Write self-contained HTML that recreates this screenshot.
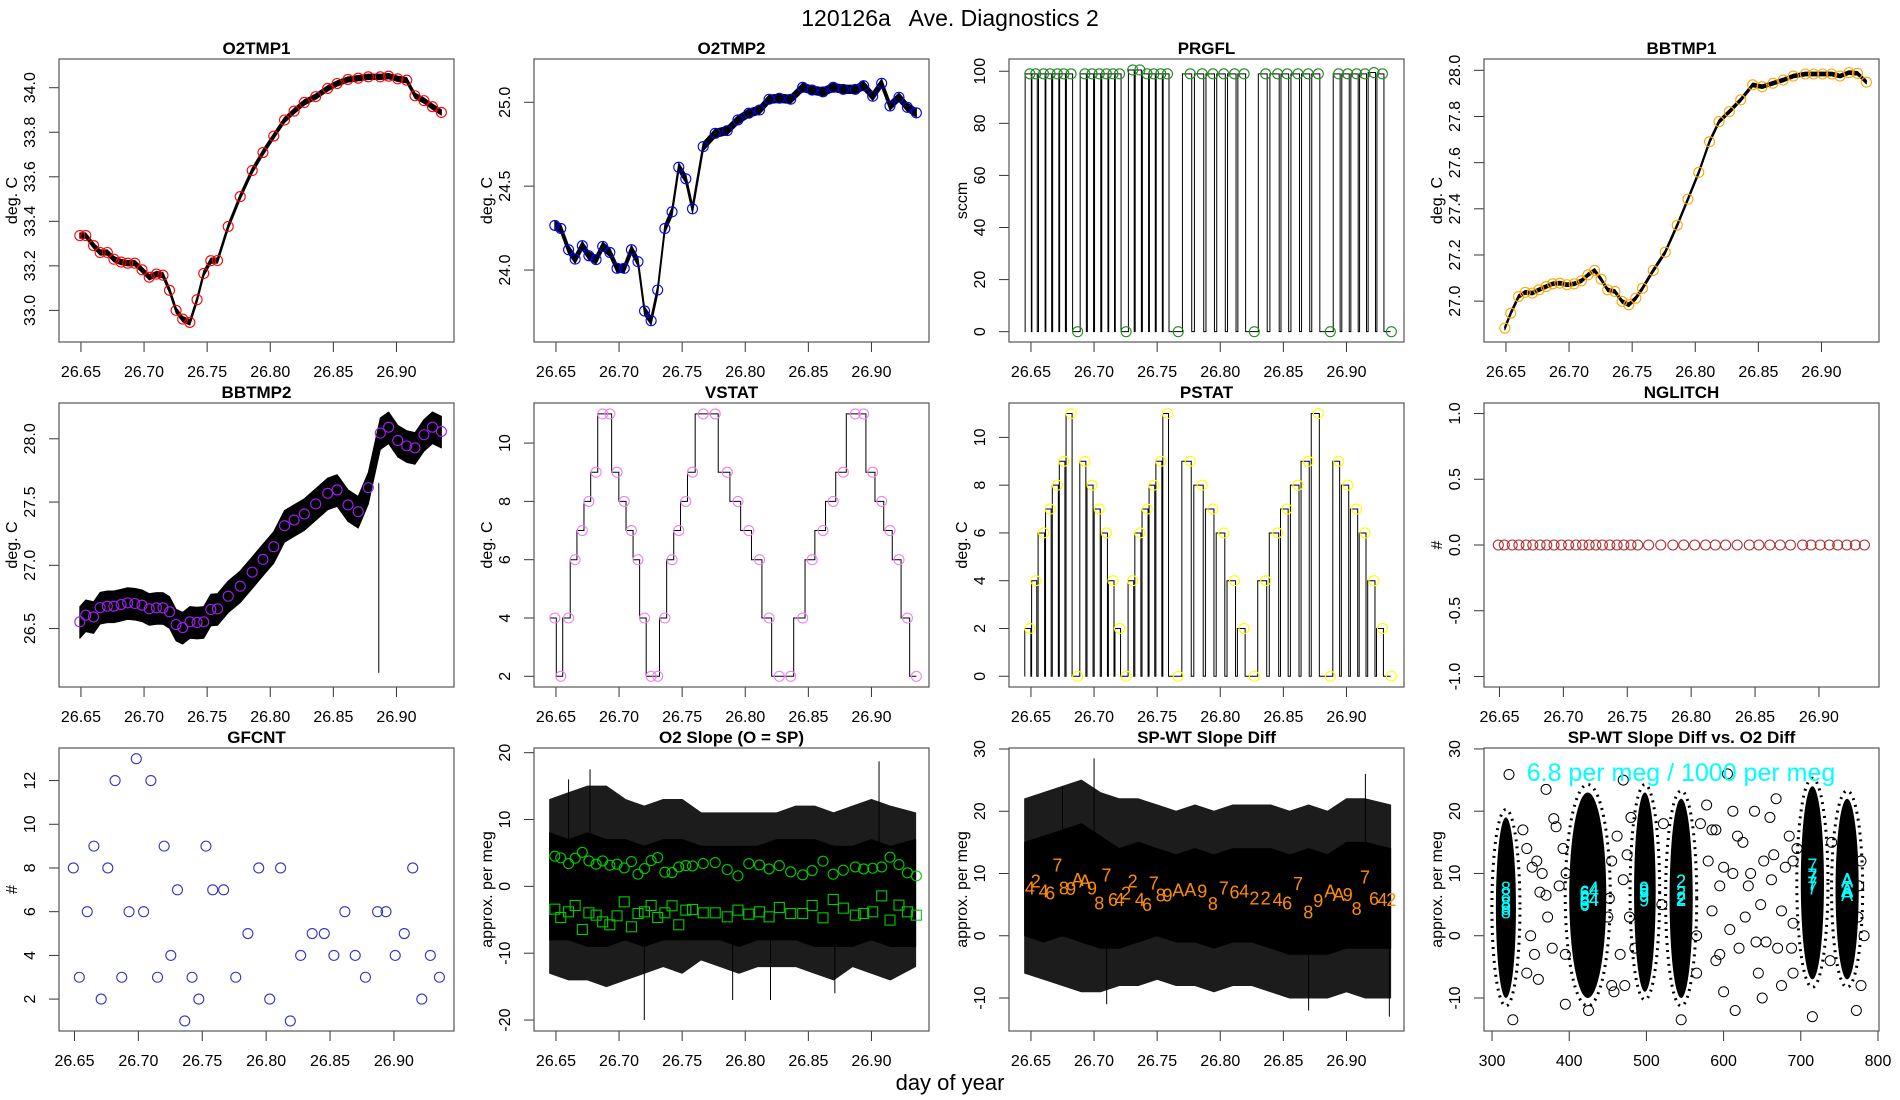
<!DOCTYPE html>
<html><head><meta charset="utf-8"><title>120126a Ave. Diagnostics 2</title>
<style>
html,body{margin:0;padding:0;background:#fff;}
svg{display:block;font-family:"Liberation Sans",Arial,sans-serif;}
</style></head>
<body>
<svg id="chart" width="1900" height="1100" viewBox="0 0 1900 1100" xmlns="http://www.w3.org/2000/svg">
<rect x="0" y="0" width="1900" height="1100" fill="#fff"/>
<text x="950" y="26" text-anchor="middle" font-size="23" style="white-space:pre">120126a   Ave. Diagnostics 2</text>
<text x="950" y="1090" text-anchor="middle" font-size="22">day of year</text>
</svg>
<script>
// ---------- data ----------
const T = [26.6491,26.6538,26.6600,26.6652,26.6709,26.6761,26.6818,26.6870,26.6927,26.6984,26.7041,26.7098,26.7150,26.7202,26.7254,26.7306,26.7363,26.7420,26.7473,26.7529,26.7582,26.7667,26.7762,26.7857,26.7942,26.8028,26.8113,26.8189,26.8270,26.8360,26.8455,26.8530,26.8616,26.8697,26.8777,26.8872,26.8938,26.9010,26.9081,26.9147,26.9218,26.9285,26.9356];
const O2TMP1 = [33.336,33.336,33.291,33.260,33.260,33.230,33.217,33.212,33.212,33.182,33.149,33.163,33.158,33.090,33.000,32.961,32.946,33.048,33.166,33.223,33.224,33.377,33.511,33.628,33.709,33.783,33.855,33.895,33.934,33.960,33.997,34.019,34.037,34.043,34.049,34.049,34.052,34.040,34.034,33.964,33.942,33.915,33.889];
const O2TMP2 = [24.266,24.248,24.121,24.065,24.145,24.085,24.062,24.141,24.105,24.010,24.010,24.121,24.050,23.756,23.698,23.881,24.248,24.347,24.613,24.544,24.365,24.736,24.815,24.831,24.895,24.935,24.954,25.018,25.024,25.018,25.089,25.073,25.062,25.089,25.077,25.077,25.099,25.036,25.113,24.978,25.030,24.970,24.937];
const PRGFL = [99,99,99,99,99,99,99,0,99,99,99,99,99,99,0,100.5,100.5,99,99,99,99,0,99,99,99,99,99,99,0,99,99,99,99,99,99,0,99,99,99,99,99.5,99,0];
const BBTMP1 = [26.883,26.948,27.020,27.038,27.035,27.049,27.063,27.075,27.078,27.071,27.075,27.088,27.114,27.133,27.095,27.049,27.042,26.999,26.984,27.013,27.056,27.133,27.212,27.329,27.442,27.558,27.691,27.778,27.821,27.872,27.937,27.929,27.944,27.958,27.975,27.984,27.984,27.984,27.984,27.975,27.990,27.987,27.949];
const BBTMP2 = [26.553,26.606,26.592,26.666,26.677,26.677,26.690,26.703,26.698,26.685,26.656,26.664,26.664,26.632,26.532,26.508,26.553,26.548,26.553,26.651,26.656,26.756,26.835,26.946,27.047,27.147,27.313,27.358,27.406,27.485,27.569,27.596,27.477,27.424,27.614,28.045,28.092,27.987,27.944,27.929,28.032,28.092,28.058];
const BB2_SPIKE_T = [26.886];
const BB2_SPIKE_LO = [26.15];
const VSTAT = [4,2,4,6,7,8,9,11,11,9,8,7,6,4,2,2,4,6,7,8,9,11,11,9,8,7,6,4,2,2,4,6,7,8,9,11,11,9,8,7,6,4,2];
const PSTAT = [2,4,6,7,8,9,11,0,9,8,7,6,4,2,0,4,6,7,8,9,11,0,9,8,7,6,4,2,0,4,6,7,8,9,11,0,9,8,7,6,4,2,0];
const NGLITCH = [0,0,0,0,0,0,0,0,0,0,0,0,0,0,0,0,0,0,0,0,0,0,0,0,0,0,0,0,0,0,0,0,0,0,0,0,0,0,0,0,0,0,0];
const GFCNT = [8,3,6,9,2,8,12,3,6,13,6,12,3,9,4,7,1,3,2,9,7,7,3,5,8,2,8,1,4,5,5,4,6,4,3,6,6,4,5,8,2,4,3];
const SLOPE_HI = [4.51,4.26,3.41,4.21,5.10,3.81,3.31,3.81,3.16,3.31,2.76,3.71,1.82,2.66,3.86,4.31,2.12,2.07,2.91,3.11,3.06,3.41,3.56,2.51,1.57,3.41,3.21,2.61,3.11,2.17,1.72,2.37,3.76,1.82,2.42,2.91,2.61,2.71,2.91,4.36,3.26,2.02,1.57];
const SLOPE_LO = [-3.41,-4.66,-3.81,-2.86,-6.45,-3.96,-4.31,-5.31,-5.75,-4.41,-2.32,-6.05,-4.06,-3.81,-2.86,-4.66,-3.96,-2.91,-5.75,-3.56,-3.46,-3.96,-3.96,-4.56,-3.56,-4.16,-3.81,-4.56,-3.16,-4.06,-4.06,-2.86,-4.71,-1.97,-3.26,-4.31,-4.06,-3.81,-1.42,-5.05,-2.81,-3.81,-4.31];
const SPWT = [7.61,8.68,7.07,6.80,11.26,7.61,7.50,8.95,8.68,7.61,5.19,9.65,5.73,5.73,6.80,8.68,5.73,4.92,8.41,6.43,6.43,7.23,7.34,7.07,5.08,7.61,6.91,7.07,6.00,6.00,5.73,5.19,8.30,3.74,5.62,7.07,6.53,6.53,4.28,9.38,5.89,5.73,5.73];
const O2DIFF = [432,545,432,420,715,318,497,760,760,497,318,715,420,432,545,545,432,420,715,318,497,760,760,497,318,715,420,432,545,545,432,420,715,318,497,760,760,497,318,715,420,432,545];
const TB = [26.645,26.66,26.675,26.69,26.705,26.72,26.735,26.75,26.765,26.78,26.795,26.81,26.825,26.84,26.855,26.87,26.885,26.90,26.915,26.935];
const SL_CORE_HI = [8,7,8,7,7,6,7,7,6,6,6,6,7,7,7,6,6,7,6,7];
const SL_CORE_LO = [-8,-8,-9,-9,-8,-9,-8,-8,-8,-8,-9,-8,-8,-8,-9,-9,-9,-8,-9,-9];
const SL_FR_HI = [13,14,15,15,13,12,13,13,11,11,11,11,11,12,12,11,12,13,12,11];
const SL_FR_LO = [-13,-14,-14,-15,-14,-13,-12,-13,-11,-12,-13,-12,-12,-12,-13,-14,-12,-13,-14,-12];
const SL_SPIKE_T = [26.677,26.72,26.79,26.82,26.871,26.906,26.66];
const SL_SPIKE_V = [17.5,-20,-17,-17,-16,18.7,16];
const SW_CORE_HI = [15,16,17,18,16,14,15,14,13,14,13,14,14,14,13,14,13,15,15,14];
const SW_CORE_LO = [0,-1,0,-1,-2,-2,-1,0,-1,-1,-2,-1,-1,-2,-3,-3,-3,-2,-2,-2];
const SW_FR_HI = [22,23,24,25,23,22,22,21,20,21,20,21,21,21,20,21,20,22,22,21];
const SW_FR_LO = [-6,-7,-8,-9,-9,-8,-8,-7,-8,-8,-9,-8,-8,-9,-10,-10,-10,-9,-10,-10];
const SW_SPIKE_T = [26.70,26.675,26.87,26.934,26.71,26.915];
const SW_SPIKE_V = [28.5,24,-12,-13,-11,26];
const CL_X = [318,424,498,545,715,760];
const CL_HW = [13,24,14,15,15,15];
const CL_LO = [-10,-10,-9,-10,-7,-7];
const CL_HI = [19,23,23,22,24,22];
const SP_X = [322,370,380,345,352,358,362,370,355,345,360,378,387,392,383,372,395,350,365,455,462,470,478,466,472,458,480,470,485,452,475,565,570,578,580,585,590,595,600,605,612,618,620,625,628,635,640,642,648,650,655,660,665,670,675,680,685,690,695,612,600,590,632,645,662,675,615,595,585,608,652,668,688,775,778,782,772,778,774,327,425,545,715,340,396,450,520,565,690,738,740,395,455,522,690];
const SP_Y = [25.9,23.5,18.8,14,11,12,7,6.5,-3,-6,-7,-2,8,14,17.5,3,-11,0,10,12,16,9,3,-3,-8,-9,19,25,-2,6,13,0,18,21,12,17,17,8,11,26,20,16,-2,15,3,10,20,-1,5,-10,-1,19,13,-2,4,11,16,2,14,10,-9,-4,8,-6,9,-8,-12,-3,4,1,12,22,-2,8,12,0,-12,-8,3,-13.5,-12,-13.5,-13,17,10,3,5,-6,12,-4,15,-3,-8,18,-6];

// ---------- helpers ----------
const NS = 'http://www.w3.org/2000/svg';
const svg = document.getElementById('chart');
function mk(tag, attrs, parent, name){
  const el = document.createElementNS(NS, tag);
  for (const k in attrs) el.setAttribute(k, attrs[k]);
  
  
  (parent || svg).appendChild(el);
  return el;
}
const COLS = [59,534,1009,1484];
const ROWS = [[59,342],[403,687],[748,1031]];
const XT = [26.65,26.70,26.75,26.80,26.85,26.90];
let clipId = 0;
function panel(ci, ri, xlim, ylim, title, ylab, yticks, ydec, xticks, xdec){
  const x0 = COLS[ci], x1 = x0 + 395, y0 = ROWS[ri][0], y1 = ROWS[ri][1];
  const sx = v => x0 + (v - xlim[0]) / (xlim[1] - xlim[0]) * (x1 - x0);
  const sy = v => y1 - (v - ylim[0]) / (ylim[1] - ylim[0]) * (y1 - y0);
  const g = mk('g', {}, svg, title.toLowerCase().replace(/[^a-z0-9]+/g,'-') + '-panel');
  const cid = 'clip' + (clipId++);
  const cp = mk('clipPath', {id: cid}, g, 'plot-clip');
  mk('rect', {x: x0, y: y0, width: x1 - x0, height: y1 - y0}, cp, 'clip-rect');
  const plot = mk('g', {'clip-path': 'url(#' + cid + ')'}, g, 'plot-area');
  mk('text', {x: (x0 + x1) / 2, y: y0 - 5, 'text-anchor': 'middle', 'font-size': 17, 'font-weight': 'bold'}, g, 'panel-title').textContent = title;
  const xt = xticks || XT;
  mk('line', {x1: sx(xt[0]), x2: sx(xt[xt.length - 1]), y1: y1, y2: y1, stroke: '#333', 'stroke-width': 1}, g, 'x-axis-line');
  xt.forEach(v => {
    mk('line', {x1: sx(v), x2: sx(v), y1: y1, y2: y1 + 10, stroke: '#333', 'stroke-width': 1}, g, 'x-tick');
    mk('text', {x: sx(v), y: y1 + 35, 'text-anchor': 'middle', 'font-size': 16}, g, 'x-tick-label').textContent = v.toFixed(xdec === undefined ? 2 : xdec);
  });
  mk('line', {x1: x0, x2: x0, y1: sy(yticks[0]), y2: sy(yticks[yticks.length - 1]), stroke: '#333', 'stroke-width': 1}, g, 'y-axis-line');
  yticks.forEach(v => {
    mk('line', {x1: x0 - 10, x2: x0, y1: sy(v), y2: sy(v), stroke: '#333', 'stroke-width': 1}, g, 'y-tick');
    const tx = x0 - 24, ty = sy(v);
    mk('text', {x: tx, y: ty, 'text-anchor': 'middle', 'font-size': 16, transform: 'rotate(-90 ' + tx + ' ' + ty + ')'}, g, 'y-tick-label').textContent = v.toFixed(ydec);
  });
  const lx = x0 - 42, ly = (y0 + y1) / 2;
  mk('text', {x: lx, y: ly, 'text-anchor': 'middle', 'font-size': 16, transform: 'rotate(-90 ' + lx + ' ' + ly + ')'}, g, 'y-axis-title').textContent = ylab;
  mk('rect', {x: x0, y: y0, width: x1 - x0, height: y1 - y0, fill: 'none', stroke: '#555', 'stroke-width': 1.2}, g, 'plot-box');
  return {sx, sy, plot, g};
}
function band(p, xs, hi, lo, fill, name){
  const pts = xs.map((t, i) => p.sx(t) + ',' + p.sy(hi[i])).concat(xs.map((t, i) => p.sx(t) + ',' + p.sy(lo[i])).reverse());
  mk('polygon', {points: pts.join(' '), fill: fill, stroke: fill, 'stroke-width': 1, 'stroke-linejoin': 'round'}, p.plot, name);
}
function line(p, xs, ys, w, name){
  mk('polyline', {points: xs.map((t, i) => p.sx(t) + ',' + p.sy(ys[i])).join(' '), fill: 'none', stroke: '#000', 'stroke-width': w}, p.plot, name);
}
function circles(p, xs, ys, color, name, r){
  xs.forEach((t, i) => {
    mk('circle', {cx: p.sx(t), cy: p.sy(ys[i]), r: r || 5, fill: 'none', stroke: color, 'stroke-width': 1.1}, p.plot, name);
  });
}
const TL = [26.6326, 26.9456], TL2 = [26.6379, 26.9470];

// P1 O2TMP1
let p = panel(0, 0, TL, [32.858, 34.129], 'O2TMP1', 'deg. C', [33.0,33.2,33.4,33.6,33.8,34.0], 1);
band(p, T, O2TMP1.map(v => v + 0.012), O2TMP1.map(v => v - 0.012), '#000', 'o2tmp1-noise');
line(p, T, O2TMP1, 1.5, 'o2tmp1-line');
circles(p, T, O2TMP1, '#ff0000', 'o2tmp1-marker');

// P2 O2TMP2
p = panel(1, 0, TL, [23.571, 25.258], 'O2TMP2', 'deg. C', [24.0,24.5,25.0], 1);
band(p, T, O2TMP2.map(v => v + 0.025), O2TMP2.map(v => v - 0.025), '#000', 'o2tmp2-noise');
line(p, T, O2TMP2, 1.3, 'o2tmp2-line');
circles(p, T, O2TMP2, '#0000ff', 'o2tmp2-marker');

// P3 PRGFL
p = panel(2, 0, TL, [-3.96, 104.7], 'PRGFL', 'sccm', [0,20,40,60,80,100], 0);
(function(){
  let d = 'M' + p.sx(26.645) + ',' + p.sy(0);
  T.forEach((t, i) => {
    if (PRGFL[i] > 50) {
      const prev = i > 0 ? T[i - 1] : t - 0.0057;
      const a = t - 0.65 * (t - prev), b = t + 0.0012;
      d += ' L' + p.sx(a) + ',' + p.sy(0) + ' L' + p.sx(a) + ',' + p.sy(PRGFL[i]) + ' L' + p.sx(b) + ',' + p.sy(PRGFL[i]) + ' L' + p.sx(b) + ',' + p.sy(0);
    }
  });
  d += ' L' + p.sx(26.935) + ',' + p.sy(0);
  mk('path', {d: d, fill: 'none', stroke: '#000', 'stroke-width': 1}, p.plot, 'prgfl-line');
})();
circles(p, T, PRGFL, '#228b22', 'prgfl-marker');

// P4 BBTMP1
p = panel(3, 0, TL, [26.823, 28.049], 'BBTMP1', 'deg. C', [27.0,27.2,27.4,27.6,27.8,28.0], 1);
band(p, T, BBTMP1.map(v => v + 0.008), BBTMP1.map(v => v - 0.008), '#000', 'bbtmp1-noise');
line(p, T, BBTMP1, 2, 'bbtmp1-line');
circles(p, T, BBTMP1, '#ffa500', 'bbtmp1-marker');

// P5 BBTMP2
p = panel(0, 1, TL, [26.038, 28.283], 'BBTMP2', 'deg. C', [26.5,27.0,27.5,28.0], 1);
band(p, T, BBTMP2.map(v => v + 0.12), BBTMP2.map(v => v - 0.13), '#000', 'bbtmp2-noise');
BB2_SPIKE_T.forEach((t, i) => {
  mk('line', {x1: p.sx(t), x2: p.sx(t), y1: p.sy(27.65), y2: p.sy(BB2_SPIKE_LO[i]), stroke: '#000', 'stroke-width': 1}, p.plot, 'bbtmp2-spike');
});
circles(p, T, BBTMP2, '#a020f0', 'bbtmp2-marker');

// P6 VSTAT
p = panel(1, 1, TL, [1.633, 11.375], 'VSTAT', 'deg. C', [2,4,6,8,10], 0);
(function(){
  let d = 'M' + p.sx(26.645) + ',' + p.sy(VSTAT[0]);
  T.forEach((t, i) => {
    if (i < T.length - 1) {
      const b = t + 0.25 * (T[i + 1] - t);
      d += ' L' + p.sx(b) + ',' + p.sy(VSTAT[i]) + ' L' + p.sx(b) + ',' + p.sy(VSTAT[i + 1]);
    } else d += ' L' + p.sx(t) + ',' + p.sy(VSTAT[i]);
  });
  mk('path', {d: d, fill: 'none', stroke: '#000', 'stroke-width': 1}, p.plot, 'vstat-line');
})();
circles(p, T, VSTAT, '#ee82ee', 'vstat-marker');

// P7 PSTAT
p = panel(2, 1, TL, [-0.45, 11.44], 'PSTAT', 'deg. C', [0,2,4,6,8,10], 0);
(function(){
  let d = 'M' + p.sx(26.645) + ',' + p.sy(0);
  T.forEach((t, i) => {
    if (PSTAT[i] > 0) {
      const prev = i > 0 ? T[i - 1] : t - 0.0057;
      const a = t - 0.7 * (t - prev), b = t + 0.0008;
      d += ' L' + p.sx(a) + ',' + p.sy(0) + ' L' + p.sx(a) + ',' + p.sy(PSTAT[i]) + ' L' + p.sx(b) + ',' + p.sy(PSTAT[i]) + ' L' + p.sx(b) + ',' + p.sy(0);
    }
  });
  d += ' L' + p.sx(26.935) + ',' + p.sy(0);
  mk('path', {d: d, fill: 'none', stroke: '#000', 'stroke-width': 1}, p.plot, 'pstat-line');
})();
circles(p, T, PSTAT, '#ffff00', 'pstat-marker');

// P8 NGLITCH
p = panel(3, 1, TL2, [-1.08, 1.08], 'NGLITCH', '#', [-1.0,-0.5,0.0,0.5,1.0], 1);
circles(p, T, NGLITCH, '#b03030', 'nglitch-marker');

// P9 GFCNT
p = panel(0, 2, TL2, [0.54, 13.49], 'GFCNT', '#', [2,4,6,8,10,12], 0);
circles(p, T, GFCNT, '#3333cc', 'gfcnt-marker');

// P10 O2 Slope
p = panel(1, 2, TL, [-21.64, 20.7], 'O2 Slope (O = SP)', 'approx. per meg', [-20,-10,0,10,20], 0);
band(p, TB, SL_FR_HI, SL_FR_LO, '#1c1c1c', 'slope-noise-fringe');
band(p, TB, SL_CORE_HI, SL_CORE_LO, '#000', 'slope-noise-core');
SL_SPIKE_T.forEach((t, i) => {
  mk('line', {x1: p.sx(t), x2: p.sx(t), y1: p.sy(0), y2: p.sy(SL_SPIKE_V[i]), stroke: '#000', 'stroke-width': 1}, p.plot, 'slope-spike');
});
circles(p, T, SLOPE_HI, '#00cc00', 'slope-circle-marker');
T.forEach((t, i) => {
  mk('rect', {x: p.sx(t) - 5, y: p.sy(SLOPE_LO[i]) - 5, width: 10, height: 10, fill: 'none', stroke: '#00cc00', 'stroke-width': 1.1}, p.plot, 'slope-square-marker');
});

// P11 SP-WT Slope Diff
p = panel(2, 2, TL, [-15.3, 30.16], 'SP-WT Slope Diff', 'approx. per meg', [-10,0,10,20,30], 0);
band(p, TB, SW_FR_HI, SW_FR_LO, '#1c1c1c', 'spwt-noise-fringe');
band(p, TB, SW_CORE_HI, SW_CORE_LO, '#000', 'spwt-noise-core');
SW_SPIKE_T.forEach((t, i) => {
  mk('line', {x1: p.sx(t), x2: p.sx(t), y1: p.sy(6), y2: p.sy(SW_SPIKE_V[i]), stroke: '#000', 'stroke-width': 1}, p.plot, 'spwt-spike');
});
T.forEach((t, i) => {
  mk('text', {x: p.sx(t), y: p.sy(SPWT[i]) + 6, 'text-anchor': 'middle', 'font-size': 18, fill: '#ff8c00'}, p.plot, 'spwt-label').textContent = VSTAT[i] >= 10 ? 'A' : String(VSTAT[i]);
});

// P12 SP-WT Slope Diff vs O2 Diff
p = panel(3, 2, [289.6, 801.3], [-15.3, 30.15], 'SP-WT Slope Diff vs. O2 Diff', 'approx. per meg', [-10,0,10,20,30], 0, [300,400,500,600,700,800], 0);
SP_X.forEach((x, i) => {
  mk('circle', {cx: p.sx(x), cy: p.sy(SP_Y[i]), r: 5, fill: 'none', stroke: '#000', 'stroke-width': 1}, p.plot, 'scatter-point');
});
CL_X.forEach((x, i) => {
  const cx = p.sx(x), cy = p.sy((CL_LO[i] + CL_HI[i]) / 2);
  const rx = p.sx(x + CL_HW[i]) - cx, ry = (p.sy(CL_LO[i]) - p.sy(CL_HI[i])) / 2;
  mk('ellipse', {cx: cx, cy: cy, rx: rx + 4, ry: ry + 8, fill: 'none', stroke: '#000', 'stroke-width': 3, 'stroke-dasharray': '2 5'}, p.plot, 'cluster-fringe');
  mk('ellipse', {cx: cx, cy: cy, rx: rx, ry: ry, fill: '#000'}, p.plot, 'scatter-cluster');
});
T.forEach((t, i) => {
  mk('text', {x: p.sx(O2DIFF[i]), y: p.sy(SPWT[i]) + 6, 'text-anchor': 'middle', 'font-size': 18, fill: '#00ffff'}, p.plot, 'scatter-label').textContent = VSTAT[i] >= 10 ? 'A' : String(VSTAT[i]);
});
mk('text', {x: 1681, y: 781, 'text-anchor': 'middle', 'font-size': 25, fill: '#00ffff'}, p.g, 'slope-annotation').textContent = '6.8 per meg / 1000 per meg';
</script>
</body></html>
